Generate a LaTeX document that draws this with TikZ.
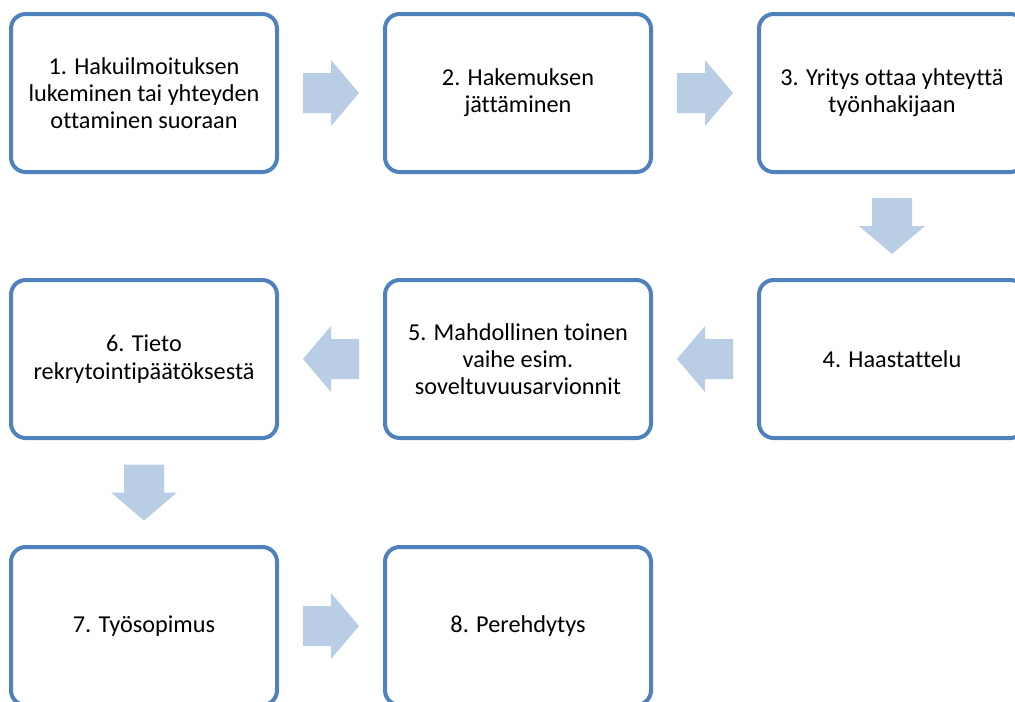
\documentclass[tikz,border=0pt]{standalone}
\usepackage{fontspec}
\setmainfont{Carlito}[Ligatures=CommonOff]
\usetikzlibrary{calc}
\definecolor{boxline}{HTML}{4F81BD}
\definecolor{arrowfill}{HTML}{B9CDE5}
\newcommand{\blockarrow}[2]% center, angle
{\fill[arrowfill, shift={(#1)}, rotate=#2] (-28,-20) -- (0,-20) -- (0,-33) -- (28,0) -- (0,33) -- (0,20) -- (-28,20) -- cycle;
}
\tikzset{stepbox/.style={draw=boxline, line width=3pt, rounded corners=11pt,
	minimum width=199.5pt, minimum height=118.5pt, inner sep=0pt, align=center,
	font=\fontsize{18.2}{20.4}\selectfont}}

\begin{document}
\begin{tikzpicture}[x=0.75pt, y=-0.75pt]
	\useasboundingbox (0,0) rectangle (1015,701);
	\node[stepbox] (b1) at (144,93){1. Hakuilmoituksen\\lukeminen tai yhteyden\\ottaminen suoraan};%1
	\node[stepbox] (b2) at (518,93){2. Hakemuksen\\jättäminen};%2
	\node[stepbox] (b3) at (892,93){3. Yritys ottaa yhteyttä\\työnhakijaan};%3
	\node[stepbox] (b4) at (892,359){4. Haastattelu};%4
	\node[stepbox] (b5) at (518,359){5. Mahdollinen toinen\\vaihe esim.\\soveltuvuusarvionnit};%5
	\node[stepbox] (b6) at (144,359){6. Tieto\\rekrytointipäätöksestä};%6
	\node[stepbox] (b7) at (144,626){7. Työsopimus};%7
	\node[stepbox] (b8) at (518,626){8. Perehdytys};%8
	\blockarrow{$(b1.east)!0.5!(b2.west)$}{0}
	\blockarrow{$(b2.east)!0.5!(b3.west)$}{0}
	\blockarrow{$(b3.south)!0.5!(b4.north)$}{-90}
	\blockarrow{$(b4.west)!0.5!(b5.east)$}{180}
	\blockarrow{$(b5.west)!0.5!(b6.east)$}{180}
	\blockarrow{$(b6.south)!0.5!(b7.north)$}{-90}
	\blockarrow{$(b7.east)!0.5!(b8.west)$}{0}
\end{tikzpicture}
\end{document}
